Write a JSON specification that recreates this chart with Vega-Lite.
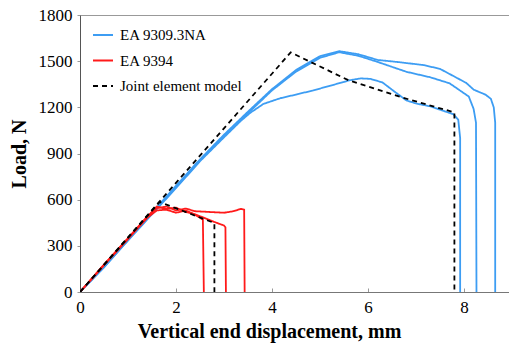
{
  "$schema": "https://vega.github.io/schema/vega-lite/v6.json",
  "autosize": "none",
  "width": 432,
  "height": 277,
  "padding": {"left": 80, "top": 15, "right": 0, "bottom": 52},
  "background": "white",
  "config": {
    "view": {"stroke": "#999999", "strokeWidth": 1},
    "font": "Liberation Serif",
    "axis": {"labelFont": "Liberation Serif", "titleFont": "Liberation Serif", "labelFlush": false},
    "legend": {"labelFont": "Liberation Serif"}
  },
  "data": {"values": [
    {"s":"EA 9309.3NA","id":"A","i":0,"x":0,"y":0},
    {"s":"EA 9309.3NA","id":"A","i":1,"x":0.5,"y":165},
    {"s":"EA 9309.3NA","id":"A","i":2,"x":1,"y":340},
    {"s":"EA 9309.3NA","id":"A","i":3,"x":1.5,"y":515},
    {"s":"EA 9309.3NA","id":"A","i":4,"x":2,"y":690},
    {"s":"EA 9309.3NA","id":"A","i":5,"x":2.5,"y":862},
    {"s":"EA 9309.3NA","id":"A","i":6,"x":3,"y":1022},
    {"s":"EA 9309.3NA","id":"A","i":7,"x":3.5,"y":1172},
    {"s":"EA 9309.3NA","id":"A","i":8,"x":4,"y":1318},
    {"s":"EA 9309.3NA","id":"A","i":9,"x":4.5,"y":1442},
    {"s":"EA 9309.3NA","id":"A","i":10,"x":5,"y":1532},
    {"s":"EA 9309.3NA","id":"A","i":11,"x":5.4,"y":1565},
    {"s":"EA 9309.3NA","id":"A","i":12,"x":5.8,"y":1545},
    {"s":"EA 9309.3NA","id":"A","i":13,"x":6.2,"y":1508},
    {"s":"EA 9309.3NA","id":"A","i":14,"x":6.6,"y":1495},
    {"s":"EA 9309.3NA","id":"A","i":15,"x":7.15,"y":1475},
    {"s":"EA 9309.3NA","id":"A","i":16,"x":7.5,"y":1450},
    {"s":"EA 9309.3NA","id":"A","i":17,"x":7.8,"y":1400},
    {"s":"EA 9309.3NA","id":"A","i":18,"x":8.05,"y":1358},
    {"s":"EA 9309.3NA","id":"A","i":19,"x":8.2,"y":1315},
    {"s":"EA 9309.3NA","id":"A","i":20,"x":8.45,"y":1282},
    {"s":"EA 9309.3NA","id":"A","i":21,"x":8.56,"y":1255},
    {"s":"EA 9309.3NA","id":"A","i":22,"x":8.62,"y":1200},
    {"s":"EA 9309.3NA","id":"A","i":23,"x":8.65,"y":1100},
    {"s":"EA 9309.3NA","id":"A","i":24,"x":8.65,"y":0},
    {"s":"EA 9309.3NA","id":"B","i":0,"x":0,"y":0},
    {"s":"EA 9309.3NA","id":"B","i":1,"x":0.5,"y":162},
    {"s":"EA 9309.3NA","id":"B","i":2,"x":1,"y":336},
    {"s":"EA 9309.3NA","id":"B","i":3,"x":1.5,"y":510},
    {"s":"EA 9309.3NA","id":"B","i":4,"x":2,"y":682},
    {"s":"EA 9309.3NA","id":"B","i":5,"x":2.5,"y":855},
    {"s":"EA 9309.3NA","id":"B","i":6,"x":3,"y":1012},
    {"s":"EA 9309.3NA","id":"B","i":7,"x":3.5,"y":1162},
    {"s":"EA 9309.3NA","id":"B","i":8,"x":4,"y":1310},
    {"s":"EA 9309.3NA","id":"B","i":9,"x":4.5,"y":1432},
    {"s":"EA 9309.3NA","id":"B","i":10,"x":5,"y":1522},
    {"s":"EA 9309.3NA","id":"B","i":11,"x":5.4,"y":1558},
    {"s":"EA 9309.3NA","id":"B","i":12,"x":5.8,"y":1535},
    {"s":"EA 9309.3NA","id":"B","i":13,"x":6.2,"y":1495},
    {"s":"EA 9309.3NA","id":"B","i":14,"x":6.8,"y":1431},
    {"s":"EA 9309.3NA","id":"B","i":15,"x":7.3,"y":1395},
    {"s":"EA 9309.3NA","id":"B","i":16,"x":7.7,"y":1356},
    {"s":"EA 9309.3NA","id":"B","i":17,"x":7.9,"y":1313},
    {"s":"EA 9309.3NA","id":"B","i":18,"x":8.1,"y":1270},
    {"s":"EA 9309.3NA","id":"B","i":19,"x":8.2,"y":1190},
    {"s":"EA 9309.3NA","id":"B","i":20,"x":8.25,"y":1100},
    {"s":"EA 9309.3NA","id":"B","i":21,"x":8.26,"y":0},
    {"s":"EA 9309.3NA","id":"C","i":0,"x":0,"y":0},
    {"s":"EA 9309.3NA","id":"C","i":1,"x":0.5,"y":160},
    {"s":"EA 9309.3NA","id":"C","i":2,"x":1,"y":335},
    {"s":"EA 9309.3NA","id":"C","i":3,"x":1.5,"y":505},
    {"s":"EA 9309.3NA","id":"C","i":4,"x":2,"y":675},
    {"s":"EA 9309.3NA","id":"C","i":5,"x":2.5,"y":850},
    {"s":"EA 9309.3NA","id":"C","i":6,"x":3,"y":1005},
    {"s":"EA 9309.3NA","id":"C","i":7,"x":3.35,"y":1112},
    {"s":"EA 9309.3NA","id":"C","i":8,"x":3.55,"y":1165},
    {"s":"EA 9309.3NA","id":"C","i":9,"x":3.82,"y":1222},
    {"s":"EA 9309.3NA","id":"C","i":10,"x":4.17,"y":1259},
    {"s":"EA 9309.3NA","id":"C","i":11,"x":4.5,"y":1283},
    {"s":"EA 9309.3NA","id":"C","i":12,"x":4.86,"y":1310},
    {"s":"EA 9309.3NA","id":"C","i":13,"x":5.3,"y":1348},
    {"s":"EA 9309.3NA","id":"C","i":14,"x":5.62,"y":1376},
    {"s":"EA 9309.3NA","id":"C","i":15,"x":5.85,"y":1388},
    {"s":"EA 9309.3NA","id":"C","i":16,"x":6.05,"y":1385},
    {"s":"EA 9309.3NA","id":"C","i":17,"x":6.3,"y":1362},
    {"s":"EA 9309.3NA","id":"C","i":18,"x":6.6,"y":1291},
    {"s":"EA 9309.3NA","id":"C","i":19,"x":6.8,"y":1245},
    {"s":"EA 9309.3NA","id":"C","i":20,"x":7.0,"y":1225},
    {"s":"EA 9309.3NA","id":"C","i":21,"x":7.3,"y":1206},
    {"s":"EA 9309.3NA","id":"C","i":22,"x":7.78,"y":1155},
    {"s":"EA 9309.3NA","id":"C","i":23,"x":7.88,"y":1120},
    {"s":"EA 9309.3NA","id":"C","i":24,"x":7.92,"y":1000},
    {"s":"EA 9309.3NA","id":"C","i":25,"x":7.92,"y":0},
    {"s":"EA 9394","id":"D","i":0,"x":0,"y":0},
    {"s":"EA 9394","id":"D","i":1,"x":0.5,"y":178},
    {"s":"EA 9394","id":"D","i":2,"x":1,"y":350},
    {"s":"EA 9394","id":"D","i":3,"x":1.4,"y":490},
    {"s":"EA 9394","id":"D","i":4,"x":1.6,"y":545},
    {"s":"EA 9394","id":"D","i":5,"x":1.8,"y":555},
    {"s":"EA 9394","id":"D","i":6,"x":2.0,"y":530},
    {"s":"EA 9394","id":"D","i":7,"x":2.2,"y":542},
    {"s":"EA 9394","id":"D","i":8,"x":2.4,"y":525},
    {"s":"EA 9394","id":"D","i":9,"x":2.7,"y":520},
    {"s":"EA 9394","id":"D","i":10,"x":3.0,"y":515},
    {"s":"EA 9394","id":"D","i":11,"x":3.2,"y":525},
    {"s":"EA 9394","id":"D","i":12,"x":3.35,"y":540},
    {"s":"EA 9394","id":"D","i":13,"x":3.42,"y":535},
    {"s":"EA 9394","id":"D","i":14,"x":3.43,"y":0},
    {"s":"EA 9394","id":"E","i":0,"x":0,"y":0},
    {"s":"EA 9394","id":"E","i":1,"x":0.5,"y":176},
    {"s":"EA 9394","id":"E","i":2,"x":1,"y":348},
    {"s":"EA 9394","id":"E","i":3,"x":1.4,"y":488},
    {"s":"EA 9394","id":"E","i":4,"x":1.6,"y":555},
    {"s":"EA 9394","id":"E","i":5,"x":1.8,"y":540},
    {"s":"EA 9394","id":"E","i":6,"x":2.0,"y":548},
    {"s":"EA 9394","id":"E","i":7,"x":2.2,"y":520},
    {"s":"EA 9394","id":"E","i":8,"x":2.4,"y":505},
    {"s":"EA 9394","id":"E","i":9,"x":2.6,"y":480},
    {"s":"EA 9394","id":"E","i":10,"x":2.8,"y":455},
    {"s":"EA 9394","id":"E","i":11,"x":3.0,"y":432},
    {"s":"EA 9394","id":"E","i":12,"x":3.03,"y":420},
    {"s":"EA 9394","id":"E","i":13,"x":3.04,"y":0},
    {"s":"EA 9394","id":"F","i":0,"x":0,"y":0},
    {"s":"EA 9394","id":"F","i":1,"x":0.5,"y":175},
    {"s":"EA 9394","id":"F","i":2,"x":1,"y":345},
    {"s":"EA 9394","id":"F","i":3,"x":1.4,"y":482},
    {"s":"EA 9394","id":"F","i":4,"x":1.6,"y":530},
    {"s":"EA 9394","id":"F","i":5,"x":1.8,"y":535},
    {"s":"EA 9394","id":"F","i":6,"x":2.0,"y":515},
    {"s":"EA 9394","id":"F","i":7,"x":2.2,"y":530},
    {"s":"EA 9394","id":"F","i":8,"x":2.35,"y":510},
    {"s":"EA 9394","id":"F","i":9,"x":2.5,"y":482},
    {"s":"EA 9394","id":"F","i":10,"x":2.56,"y":470},
    {"s":"EA 9394","id":"F","i":11,"x":2.58,"y":0},
    {"s":"Joint element model","id":"M1","i":0,"x":0,"y":0},
    {"s":"Joint element model","id":"M1","i":1,"x":4.39,"y":1557},
    {"s":"Joint element model","id":"M1","i":2,"x":5.6,"y":1375},
    {"s":"Joint element model","id":"M1","i":3,"x":6.7,"y":1265},
    {"s":"Joint element model","id":"M1","i":4,"x":7.8,"y":1167},
    {"s":"Joint element model","id":"M1","i":5,"x":7.8,"y":0},
    {"s":"Joint element model","id":"M2","i":0,"x":0,"y":0},
    {"s":"Joint element model","id":"M2","i":1,"x":1.66,"y":585},
    {"s":"Joint element model","id":"M2","i":2,"x":2.8,"y":448},
    {"s":"Joint element model","id":"M2","i":3,"x":2.8,"y":0}
  ]},
  "mark": {"type": "line", "strokeWidth": 1.8, "clip": true},
  "encoding": {
    "x": {
      "field": "x", "type": "quantitative",
      "scale": {"domain": [0, 9], "nice": false},
      "axis": {
        "values": [0, 2, 4, 6, 8], "title": "Vertical end displacement, mm", "format": "d", "labelFlush": false,
        "grid": false, "domainColor": "#777777", "tickColor": "#999999", "tickSize": -4,
        "labelFontSize": 17, "labelColor": "black", "labelFont": "Liberation Serif", "labelPadding": 11,
        "titleFont": "Liberation Serif", "titleFontSize": 20, "titleFontWeight": "bold", "titleColor": "black", "titlePadding": 6,
        "titleX": 189
      }
    },
    "y": {
      "field": "y", "type": "quantitative",
      "scale": {"domain": [0, 1800], "nice": false},
      "axis": {
        "values": [0, 300, 600, 900, 1200, 1500, 1800], "title": "Load, N", "format": "d", "labelFlush": false,
        "grid": false, "domainColor": "#555555", "tickColor": "#999999", "tickSize": 3,
        "labelFontSize": 17, "labelColor": "black", "labelFont": "Liberation Serif", "labelPadding": 5,
        "titleFont": "Liberation Serif", "titleFontSize": 20, "titleFontWeight": "bold", "titleColor": "black", "titlePadding": 9
      }
    },
    "color": {
      "field": "s", "type": "nominal",
      "scale": {"domain": ["EA 9309.3NA", "EA 9394", "Joint element model"], "range": ["#3d9df3", "#ff1a1a", "#000000"]},
      "legend": {
        "title": null, "orient": "none", "legendX": 12, "legendY": 9,
        "symbolType": "stroke", "symbolSize": 400, "symbolStrokeWidth": 2,
        "labelFont": "Liberation Serif", "labelFontSize": 15, "labelColor": "black",
        "rowPadding": 6.5, "labelOffset": 6
      }
    },
    "strokeDash": {
      "field": "s", "type": "nominal",
      "scale": {"domain": ["EA 9309.3NA", "EA 9394", "Joint element model"], "range": [[1, 0], [1, 0], [5, 4]]},
      "legend": {
        "title": null, "orient": "none", "legendX": 12, "legendY": 9,
        "symbolType": "stroke", "symbolSize": 400, "symbolStrokeWidth": 2,
        "labelFont": "Liberation Serif", "labelFontSize": 15, "labelColor": "black",
        "rowPadding": 6.5, "labelOffset": 6
      }
    },
    "detail": {"field": "id", "type": "nominal"},
    "order": {"field": "i", "type": "quantitative"}
  }
}
